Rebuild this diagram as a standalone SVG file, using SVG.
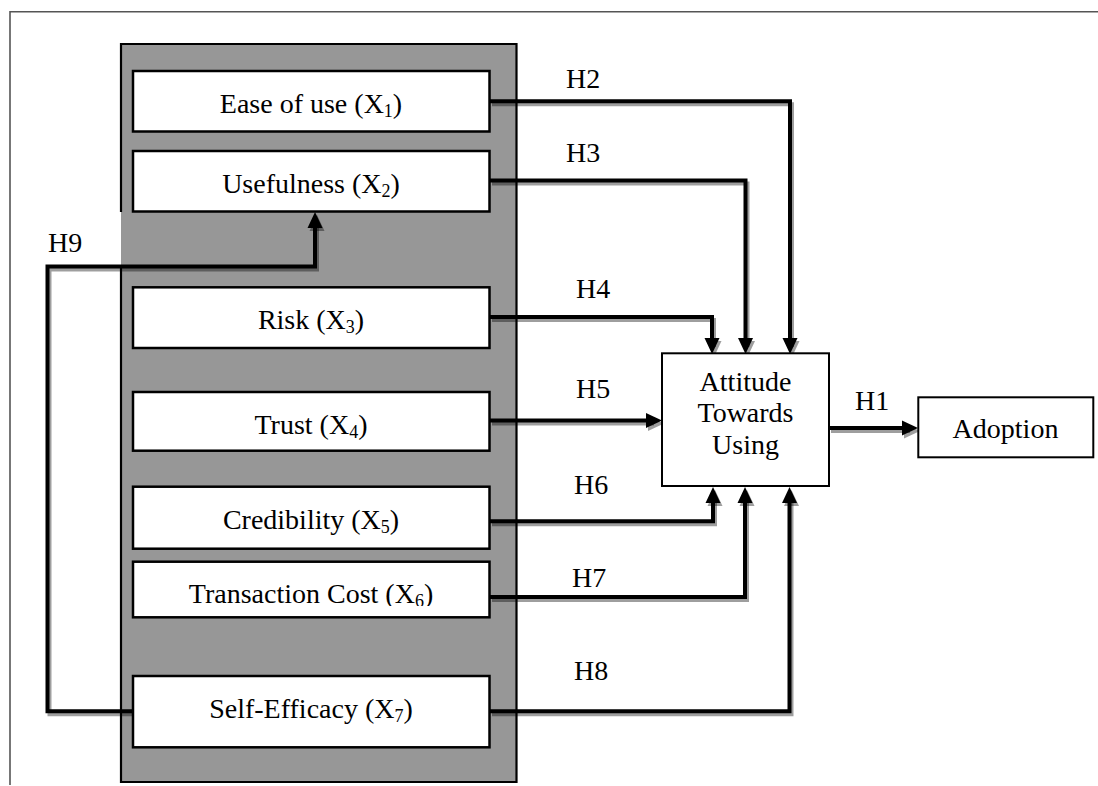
<svg xmlns="http://www.w3.org/2000/svg" width="1098" height="786" viewBox="0 0 1098 786">
<style>
.t{font-family:"Liberation Serif","Times New Roman",serif;font-size:28px;fill:#000}
.s{font-size:18px}
.box{fill:#fff;stroke:#000;stroke-width:2.5}
.c{fill:none;stroke:#000;stroke-width:4;stroke-linejoin:miter}
.sh{fill:none;stroke:#000;stroke-opacity:0.38;stroke-width:4;stroke-linejoin:miter}
.frame{fill:none;stroke:#555;stroke-width:1.6}
</style>
<defs>
<marker id="ah" markerUnits="userSpaceOnUse" markerWidth="16" markerHeight="15" refX="6" refY="7.5" orient="auto" overflow="visible">
<path d="M0,0 L16,7.5 L0,15 z" fill="#000"/>
</marker>
<marker id="ahs" markerUnits="userSpaceOnUse" markerWidth="16" markerHeight="15" refX="6" refY="7.5" orient="auto" overflow="visible">
<path d="M0,0 L16,7.5 L0,15 z" fill="#000" fill-opacity="0.38"/>
</marker>
<clipPath id="clipTC"><rect x="133" y="561" width="357" height="45"/></clipPath>
</defs>
<rect width="1098" height="786" fill="#fff"/>
<path class="frame" d="M10,785 V11.8 H1098"/>
<g id="panel">
<rect x="121" y="44" width="395.5" height="738" fill="#979797"/>
<path d="M121,212 V44 H516.5 V782 H121 V268" fill="none" stroke="#000" stroke-width="2.2"/>
</g>
<g id="connectors">
<g transform="translate(2,3)">
<path class="sh" d="M490,101.3 H790 V344" marker-end="url(#ahs)"/>
<path class="sh" d="M490,180.5 H745.5 V344" marker-end="url(#ahs)"/>
<path class="sh" d="M490,317 H712 V344" marker-end="url(#ahs)"/>
<path class="sh" d="M490,420.5 H652" marker-end="url(#ahs)"/>
<path class="sh" d="M490,521.3 H713 V497" marker-end="url(#ahs)"/>
<path class="sh" d="M490,597 H745 V497" marker-end="url(#ahs)"/>
<path class="sh" d="M490,711.3 H789.5 V497" marker-end="url(#ahs)"/>
<path class="sh" d="M829,428 H908" marker-end="url(#ahs)"/>
<path class="sh" d="M133,711.3 H47.5 V266.5 H315 V222" marker-end="url(#ahs)"/>
</g>
<path class="c" d="M490,101.3 H790 V344" marker-end="url(#ah)"/>
<path class="c" d="M490,180.5 H745.5 V344" marker-end="url(#ah)"/>
<path class="c" d="M490,317 H712 V344" marker-end="url(#ah)"/>
<path class="c" d="M490,420.5 H652" marker-end="url(#ah)"/>
<path class="c" d="M490,521.3 H713 V497" marker-end="url(#ah)"/>
<path class="c" d="M490,597 H745 V497" marker-end="url(#ah)"/>
<path class="c" d="M490,711.3 H789.5 V497" marker-end="url(#ah)"/>
<path class="c" d="M829,428 H908" marker-end="url(#ah)"/>
<path class="c" d="M133,711.3 H47.5 V266.5 H315 V222" marker-end="url(#ah)"/>
<text class="t" x="566" y="88">H2</text>
<text class="t" x="566" y="162">H3</text>
<text class="t" x="576" y="298">H4</text>
<text class="t" x="576" y="398">H5</text>
<text class="t" x="574" y="494">H6</text>
<text class="t" x="572" y="587">H7</text>
<text class="t" x="574" y="680">H8</text>
<text class="t" x="48" y="252">H9</text>
<text class="t" x="855" y="410">H1</text>
</g>
<g id="ease">
<rect class="box" x="133" y="71" width="356.5" height="60.5"/>
<text class="t" x="311" y="113.3" text-anchor="middle">Ease of use (X<tspan class="s" dy="4">1</tspan><tspan dy="-4">)</tspan></text>
</g>
<g id="usefulness">
<rect class="box" x="133" y="151" width="356.5" height="60.5"/>
<text class="t" x="311" y="193" text-anchor="middle">Usefulness (X<tspan class="s" dy="4">2</tspan><tspan dy="-4">)</tspan></text>
</g>
<g id="risk">
<rect class="box" x="133" y="287.3" width="356.5" height="60.7"/>
<text class="t" x="311" y="329.3" text-anchor="middle">Risk (X<tspan class="s" dy="4">3</tspan><tspan dy="-4">)</tspan></text>
</g>
<g id="trust">
<rect class="box" x="133" y="392" width="356.5" height="58.7"/>
<text class="t" x="311" y="434" text-anchor="middle">Trust (X<tspan class="s" dy="4">4</tspan><tspan dy="-4">)</tspan></text>
</g>
<g id="credibility">
<rect class="box" x="133" y="486.7" width="356.5" height="62"/>
<text class="t" x="311" y="529.3" text-anchor="middle">Credibility (X<tspan class="s" dy="4">5</tspan><tspan dy="-4">)</tspan></text>
</g>
<g id="transaction">
<rect class="box" x="133" y="561.7" width="356.5" height="55.6"/>
<text class="t" x="311" y="603.3" text-anchor="middle" clip-path="url(#clipTC)">Transaction Cost (X<tspan class="s" dy="4">6</tspan><tspan dy="-4">)</tspan></text>
</g>
<g id="selfefficacy">
<rect class="box" x="133" y="676" width="356.5" height="71.3"/>
<text class="t" x="311" y="717.7" text-anchor="middle">Self-Efficacy (X<tspan class="s" dy="4">7</tspan><tspan dy="-4">)</tspan></text>
</g>
<g id="attitude">
<rect x="662" y="353.3" width="167" height="132.7" fill="#fff" stroke="#000" stroke-width="2"/>
<text class="t" x="745.5" y="390.7" text-anchor="middle">Attitude</text>
<text class="t" x="745.5" y="421.7" text-anchor="middle">Towards</text>
<text class="t" x="745.5" y="454" text-anchor="middle">Using</text>
</g>
<g id="adoption">
<rect x="918.3" y="397.3" width="175" height="60" fill="#fff" stroke="#000" stroke-width="2"/>
<text class="t" x="1005.5" y="438.3" text-anchor="middle">Adoption</text>
</g>
</svg>
